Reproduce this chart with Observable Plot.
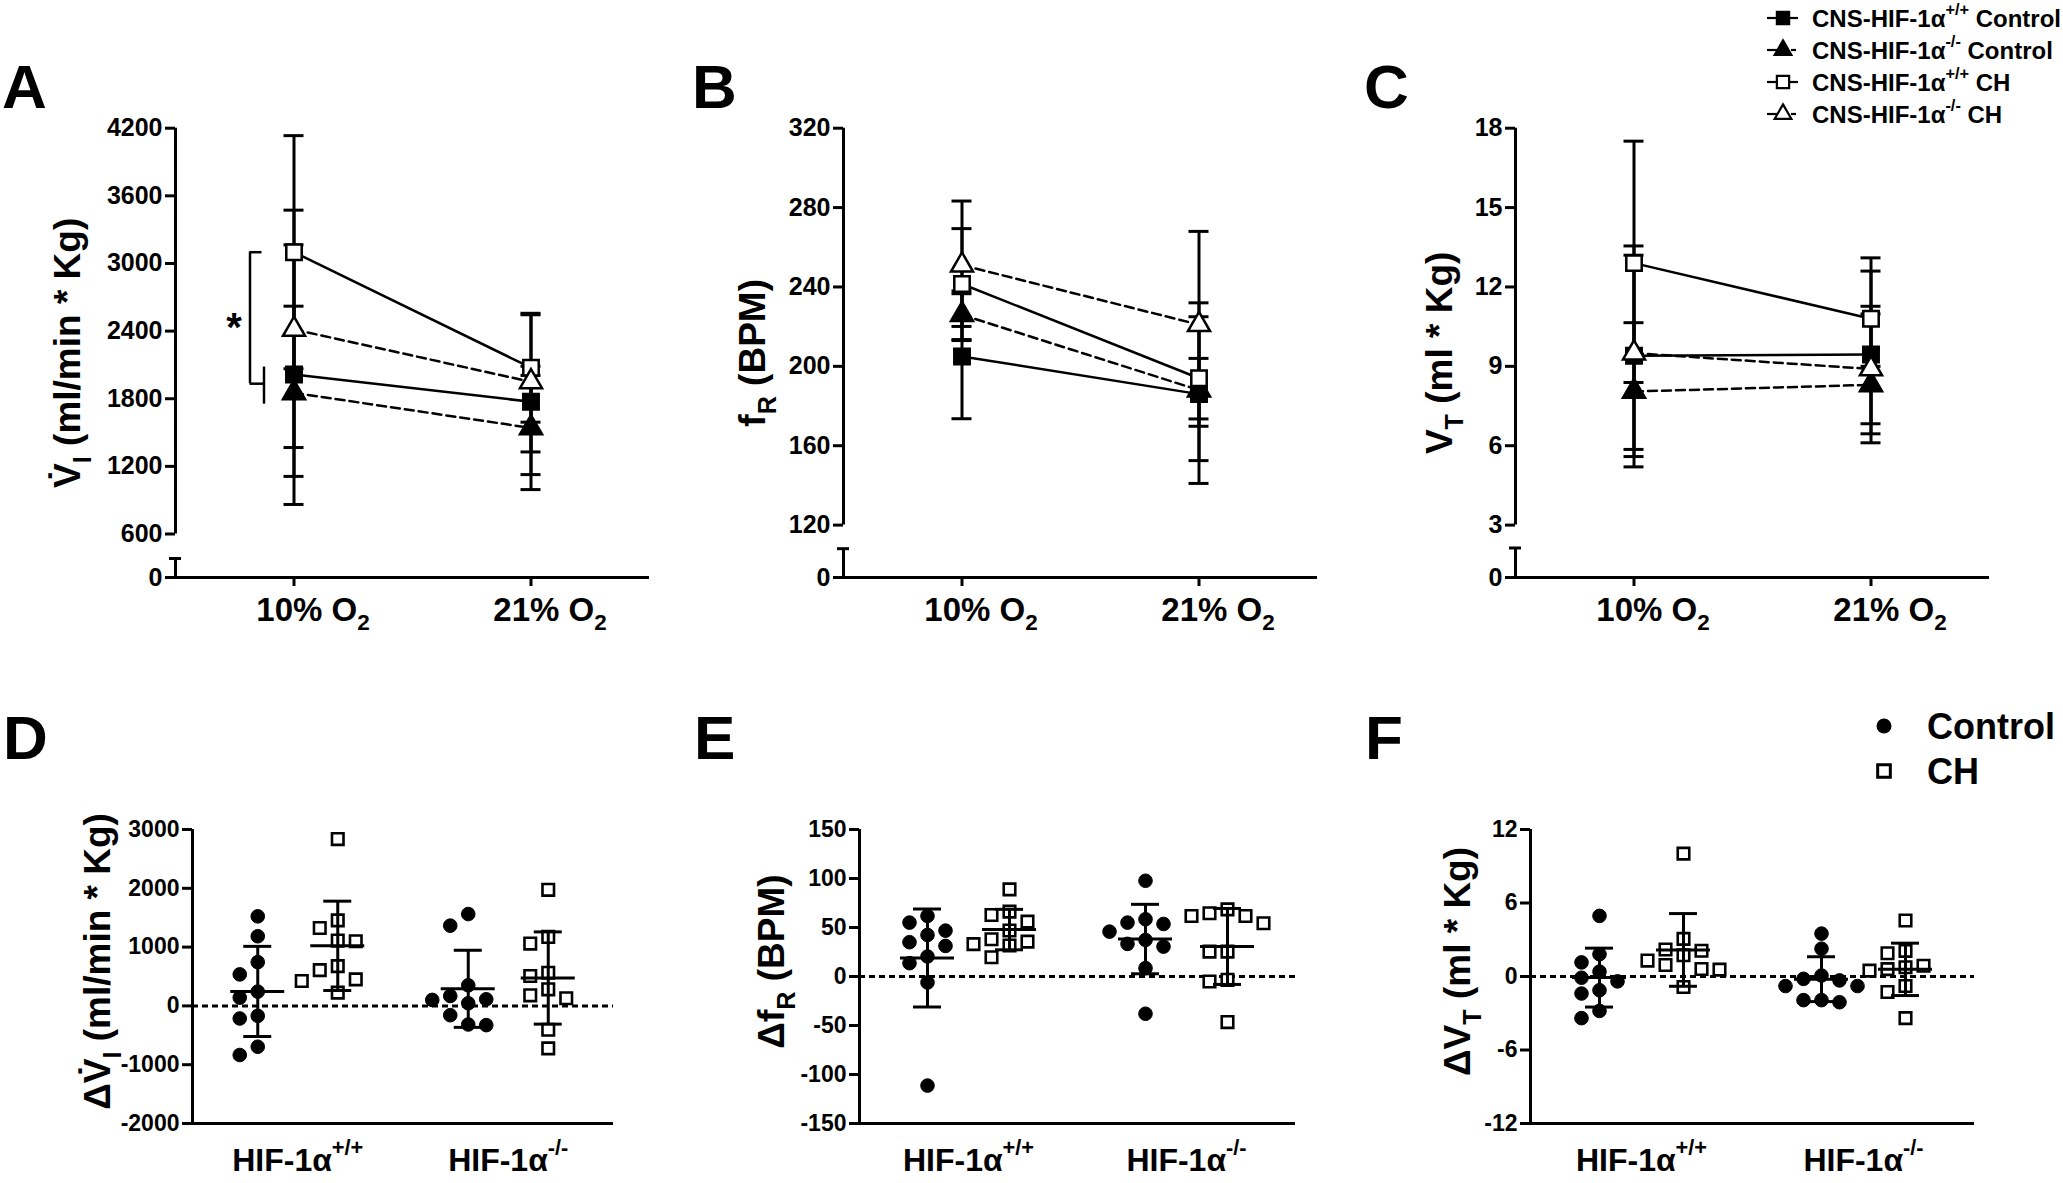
<!DOCTYPE html>
<html>
<head>
<meta charset="utf-8">
<script src="https://cdn.jsdelivr.net/npm/d3@7"></script>
<script src="https://cdn.jsdelivr.net/npm/@observablehq/plot@0.6"></script>
<style>
html, body { margin: 0; padding: 0; background: #fff; }
#fig { position: relative; width: 2063px; height: 1183px; background: #fff; overflow: hidden; }
#fig > svg { position: absolute; }
</style>
</head>
<body>
<div id="fig"></div>
<script>
// ================= DATA =================
const conditions = ["10% O_{2}", "21% O_{2}"];
const series = ["CNS-HIF-1α^{+/+} Control", "CNS-HIF-1α^{-/-} Control", "CNS-HIF-1α^{+/+} CH", "CNS-HIF-1α^{-/-} CH"];
const seriesSymbol = ["square", "triangle", "square", "triangle"];
const seriesFill = ["black", "black", "white", "white"];
const seriesDashed = [false, true, false, true];

// A — V̇I (ml/min * Kg), rows = series, columns = [10% O2, 21% O2]
const viMean = [[2015, 1773], [1852, 1541], [3100, 2075], [2415, 1950]];
const viLow  = [[862, 1127], [1111, 994], [2066, 1592], [1367, 1328]];
const viHigh = [[3165, 2007], [2621, 2088], [4134, 2558], [3473, 2545]];
const viTicks = [0, 600, 1200, 1800, 2400, 3000, 3600, 4200];

// B — fR (BPM)
const frMean = [[205, 186], [226, 188], [241.5, 194], [251, 221]];
const frLow  = [[173.6, 141], [213, 169.8], [213.5, 152.5], [220.1, 173.5]];
const frHigh = [[236.6, 225], [238, 204], [269.4, 232], [283.3, 268]];
const frTicks = [0, 120, 160, 200, 240, 280, 320];

// C — VT (ml * Kg)
const vtMean = [[9.4, 9.45], [8.05, 8.3], [12.9, 10.8], [9.5, 8.9]];
const vtLow  = [[5.59, 6.11], [5.86, 6.45], [8.39, 9.0], [5.2, 6.83]];
const vtHigh = [[13.2, 13.1], [10.65, 11.27], [17.51, 12.6], [13.55, 10.98]];
const vtTicks = [0, 3, 6, 9, 12, 15, 18];

// D–F — individual changes
const genotypes = ["HIF-1α^{+/+}", "HIF-1α^{-/-}"];
const treatments = ["Control", "CH"];

const dViWtControl = [1523, 1184, 744, 536, 243, 141, -169, -214, -694, -835];
const dViWtCH      = [2837, 1455, 1325, 1111, 1100, 677, 609, 451, 423, 226];
const dViKoControl = [1562, 1365, 350, 169, 102, 113, 45, -158, -327, -316];
const dViKoCH      = [1974, 1173, 1060, 564, 508, 282, 180, 130, -406, -722];
const dViTicks = [-2000, -1000, 0, 1000, 2000, 3000];

const dFrWtControl = [61.8, 55, 46.8, 42.4, 35, 31.2, 20.4, 13.6, -6.1, -111.3];
const dFrWtCH      = [88.9, 66.2, 62.8, 56, 47, 38, 35.6, 33, 31.6, 19.7];
const dFrKoControl = [97.7, 58.4, 55, 53.6, 45.8, 37.3, 33.3, 30.5, 8.5, -38];
const dFrKoCH      = [68.5, 64.5, 61.8, 61.8, 54.3, 25.4, 25.4, -3.4, -5.1, -46.5];
const dFrTicks = [-150, -100, -50, 0, 50, 100, 150];

const dVtWtControl = [4.95, 1.82, 1.15, 0.4, -0.1, -0.4, -1.12, -1.39, -2.81, -3.4];
const dVtWtCH      = [10.03, 3.07, 2.2, 2.1, 1.74, 1.3, 0.94, 0.61, 0.56, -0.86];
const dVtKoControl = [3.5, 2.27, 0.08, -0.19, -0.32, -0.78, -0.78, -1.93, -1.93, -2.1];
const dVtKoCH      = [4.57, 2.09, 1.9, 0.88, 0.75, 0.6, 0.48, -0.78, -1.26, -3.4];
const dVtTicks = [-12, -6, 0, 6, 12];

// ================= HELPERS =================
const fontFamily = '"Liberation Sans", Arial, Helvetica, sans-serif';
const fig = document.getElementById("fig");
const svgStyle = {fontFamily, fontWeight: "bold", background: "none", overflow: "visible", color: "black"};

function place(svg, left, top) {
  svg.style.left = left + "px";
  svg.style.top = top + "px";
  fig.appendChild(svg);
}

function topPanel({left, mean, low, high, ticks, brkY, brkCap, label, labelDx, extra}) {
  const W = 680, H = 650, mL = 175, mR = 31, yTop = 127.7, yZero = 577;
  const pxU = 2 / (W - mL - mR);
  const rows = [];
  mean.forEach((m, s) => m.forEach((v, c) => rows.push({s, c: c + 1, mean: v, lo: low[s][c], hi: high[s][c]})));
  const brk = ticks[1], top = ticks[ticks.length - 1];
  const marks = [
    Plot.ruleX([0.5], {y1: brk, y2: top, strokeWidth: 3}),
    Plot.ruleX([0.5], {y1: 0, y2: brkCap, strokeWidth: 3}),
    Plot.ruleY([brkCap], {x1: 0.5 - 6 * pxU, x2: 0.5 + 6 * pxU, strokeWidth: 3}),
    Plot.ruleY([0], {x1: 0.5, x2: 2.5, strokeWidth: 3}),
    Plot.axisY({ticks, tickSize: 10, tickPadding: 3, fontSize: 25, fontWeight: "bold", strokeWidth: 3, label: null, tickFormat: d => String(d)}),
    Plot.axisX({ticks: [1, 2], tickSize: 9, strokeWidth: 3, tickFormat: () => "", label: null}),
    Plot.axisX({ticks: [1, 2], tickFormat: i => conditions[i - 1], tickSize: 9, tickPadding: 11, dx: 19, fontSize: 33, fontWeight: "bold", strokeWidth: 0, label: null}),
    Plot.text([label], {text: d => d, frameAnchor: "left", textAnchor: "middle", dx: labelDx, rotate: -90, fontSize: 37, fontWeight: "bold"}),
    Plot.ruleX(rows, {x: "c", y1: "lo", y2: "hi", strokeWidth: 3}),
    Plot.ruleY(rows, {y: "hi", x1: d => d.c - 10 * pxU, x2: d => d.c + 10 * pxU, strokeWidth: 3}),
    Plot.ruleY(rows, {y: "lo", x1: d => d.c - 10 * pxU, x2: d => d.c + 10 * pxU, strokeWidth: 3}),
    Plot.line(rows.filter(d => !seriesDashed[d.s]), {x: "c", y: "mean", z: "s", strokeWidth: 2.5}),
    Plot.line(rows.filter(d => seriesDashed[d.s]), {x: "c", y: "mean", z: "s", strokeWidth: 2.5, strokeDasharray: "9,5"}),
    ...series.map((_, s) => Plot.dot(rows.filter(d => d.s === s), {
      x: "c", y: "mean", symbol: seriesSymbol[s], fill: seriesFill[s], stroke: "black",
      strokeWidth: 2.5, r: seriesSymbol[s] === "square" ? 8.7 : 8.2
    })),
    ...(extra ? extra(pxU) : [])
  ];
  const svg = Plot.plot({
    width: W, height: H, marginLeft: mL, marginRight: mR, marginTop: yTop, marginBottom: H - yZero,
    x: {type: "linear", domain: [0.5, 2.5]},
    y: {type: "linear", domain: [0, brk, top], range: [yZero, brkY, yTop]},
    style: svgStyle,
    marks
  });
  place(svg, left, 0);
}

function bottomPanel({left, data, ticks, label, labelDx, plotW, colOff}) {
  const W = 680, H = 503, mL = 192, mT = 149, mB = 60;
  const mR = W - mL - plotW;
  const pxU = 2 / plotW;
  const yDomain = [ticks[0], ticks[ticks.length - 1]];
  const yS = Plot.scale({y: {type: "linear", domain: yDomain, range: [H - mB, mT]}});
  const cols = [];
  genotypes.forEach((g, gi) => treatments.forEach((t, ti) =>
    cols.push({gi, ti, x: gi + 1 + (ti ? 1 : -1) * colOff * pxU, vals: data[gi * 2 + ti]})));
  const pts = [];
  cols.forEach(col => {
    const placed = [];
    const sorted = col.vals.slice().sort((a, b) => b - a);
    for (const v of sorted) {
      const py = yS.apply(v);
      let slot = 0;
      for (const cand of [0, -1, 1, -2, 2, -3, 3]) {
        if (!placed.some(p => p.slot === cand && Math.abs(p.py - py) < 15)) { slot = cand; break; }
      }
      placed.push({slot, py});
      pts.push({ti: col.ti, v, x: col.x + slot * 18 * pxU});
    }
  });
  const stats = cols.map(c => ({x: c.x, mean: d3.mean(c.vals), sd: d3.deviation(c.vals)}));
  const svg = Plot.plot({
    width: W, height: H, marginLeft: mL, marginRight: mR, marginTop: mT, marginBottom: mB,
    x: {type: "linear", domain: [0.5, 2.5]},
    y: {type: "linear", domain: yDomain},
    style: svgStyle,
    marks: [
      Plot.ruleX([0.5], {y1: yDomain[0], y2: yDomain[1], strokeWidth: 3}),
      Plot.ruleY([yDomain[0]], {x1: 0.5, x2: 2.5, strokeWidth: 3}),
      Plot.ruleY([0], {x1: 0.5, x2: 2.5, strokeWidth: 3, strokeDasharray: "6,4"}),
      Plot.axisY({ticks, tickSize: 10, tickPadding: 3, fontSize: 23, fontWeight: "bold", strokeWidth: 3, label: null, tickFormat: d => String(d)}),
      Plot.axisX({ticks: [1, 2], tickFormat: i => genotypes[i - 1], tickSize: 0, tickPadding: 25, fontSize: 32, fontWeight: "bold", label: null}),
      Plot.text([label], {text: d => d, frameAnchor: "left", textAnchor: "middle", dx: labelDx, dy: -15, rotate: -90, fontSize: 37, fontWeight: "bold"}),
      Plot.dot(pts.filter(d => d.ti === 0), {x: "x", y: "v", r: 6.8, fill: "black", stroke: "black", strokeWidth: 1}),
      Plot.dot(pts.filter(d => d.ti === 1), {x: "x", y: "v", symbol: "square", r: 6.5, fill: "white", stroke: "black", strokeWidth: 2.6}),
      Plot.ruleY(stats, {y: "mean", x1: d => d.x - 27 * pxU, x2: d => d.x + 27 * pxU, strokeWidth: 3}),
      Plot.ruleX(stats, {x: "x", y1: d => d.mean - d.sd, y2: d => d.mean + d.sd, strokeWidth: 3}),
      Plot.ruleY(stats, {y: d => d.mean + d.sd, x1: d => d.x - 14 * pxU, x2: d => d.x + 14 * pxU, strokeWidth: 3}),
      Plot.ruleY(stats, {y: d => d.mean - d.sd, x1: d => d.x - 14 * pxU, x2: d => d.x + 14 * pxU, strokeWidth: 3})
    ]
  });
  place(svg, left, 680);
}

// ================= PANELS =================
topPanel({
  left: 0, mean: viMean, low: viLow, high: viHigh, ticks: viTicks, brkY: 533.5, brkCap: 262,
  label: "V\u0307_{I} (ml/min * Kg)", labelDx: -107,
  extra: pxU => {
    const br = {x: 1, top: viMean[2][0], bot: (viMean[0][0] + viMean[1][0]) / 2,
                lo: viMean[1][0] - 100, hi: viMean[0][0] + 66};
    return [
      Plot.ruleX([br], {x: d => d.x - 44 * pxU, y1: "top", y2: "bot", strokeWidth: 2.5}),
      Plot.ruleY([br], {y: "top", x1: d => d.x - 44 * pxU, x2: d => d.x - 32 * pxU, strokeWidth: 2.5}),
      Plot.ruleY([br], {y: "bot", x1: d => d.x - 44 * pxU, x2: d => d.x - 30 * pxU, strokeWidth: 2.5}),
      Plot.ruleX([br], {x: d => d.x - 30 * pxU, y1: "lo", y2: "hi", strokeWidth: 2.5}),
      Plot.text([br], {x: d => d.x - 60 * pxU, y: d => (d.top + d.bot) / 2, text: () => "*", fontSize: 40, fontWeight: "bold", dy: 10})
    ];
  }
});
topPanel({left: 668, mean: frMean, low: frLow, high: frHigh, ticks: frTicks, brkY: 524.6, brkCap: 66,
  label: "f_{R} (BPM)", labelDx: -90});
topPanel({left: 1340, mean: vtMean, low: vtLow, high: vtHigh, ticks: vtTicks, brkY: 524.6, brkCap: 1.69,
  label: "V_{T} (ml * Kg)", labelDx: -75});

bottomPanel({left: 0, data: [dViWtControl, dViWtCH, dViKoControl, dViKoCH], ticks: dViTicks,
  label: "\u0394V\u0307_{I} (ml/min * Kg)", labelDx: -94, plotW: 421, colOff: 40});
bottomPanel({left: 667, data: [dFrWtControl, dFrWtCH, dFrKoControl, dFrKoCH], ticks: dFrTicks,
  label: "\u0394f_{R} (BPM)", labelDx: -87, plotW: 436, colOff: 41});
bottomPanel({left: 1338, data: [dVtWtControl, dVtWtCH, dVtKoControl, dVtKoCH], ticks: dVtTicks,
  label: "\u0394V_{T} (ml * Kg)", labelDx: -72, plotW: 444, colOff: 42});

// ================= OVERLAY: panel letters & legends =================
const ov = d3.create("svg").attr("width", 2063).attr("height", 1183)
  .style("left", "0px").style("top", "0px")
  .attr("font-family", fontFamily).attr("font-weight", "bold");

[["A", 2, 108], ["B", 692, 108], ["C", 1364, 108], ["D", 3, 759], ["E", 694, 759], ["F", 1365, 759]]
  .forEach(([t, x, y]) => ov.append("text").attr("x", x).attr("y", y).attr("font-size", 62).text(t));

series.forEach((name, i) => {
  const y = 18 + 32 * i;
  const g = ov.append("g");
  if (seriesDashed[i]) {
    g.append("line").attr("x1", 1767).attr("x2", 1777).attr("y1", y).attr("y2", y).attr("stroke", "black").attr("stroke-width", 2.2);
    g.append("line").attr("x1", 1791).attr("x2", 1796).attr("y1", y).attr("y2", y).attr("stroke", "black").attr("stroke-width", 2.2);
  } else {
    g.append("line").attr("x1", 1767).attr("x2", 1798).attr("y1", y).attr("y2", y).attr("stroke", "black").attr("stroke-width", 2.2);
  }
  const sym = seriesSymbol[i] === "square" ? d3.symbol(d3.symbolSquare, 150) : d3.symbol(d3.symbolTriangle, 120);
  g.append("path").attr("d", sym()).attr("transform", `translate(1783,${y})`)
    .attr("fill", seriesFill[i]).attr("stroke", "black").attr("stroke-width", 2.2);
  g.append("text").attr("x", 1812).attr("y", y + 8.5).attr("font-size", 24).text(name);
});

// D–F legend
ov.append("circle").attr("cx", 1884).attr("cy", 726).attr("r", 7.5).attr("fill", "black");
ov.append("text").attr("x", 1927).attr("y", 739).attr("font-size", 36).text(treatments[0]);
ov.append("path").attr("d", d3.symbol(d3.symbolSquare, 160)()).attr("transform", "translate(1884,771)")
  .attr("fill", "white").attr("stroke", "black").attr("stroke-width", 3);
ov.append("text").attr("x", 1927).attr("y", 784).attr("font-size", 36).text(treatments[1]);

fig.appendChild(ov.node());

// ================= rich text (sub/superscripts) =================
function richify(root) {
  const NS = "http://www.w3.org/2000/svg";
  root.querySelectorAll("text").forEach(t => {
    const s = t.textContent;
    if (!/[\^_]\{/.test(s)) return;
    const parts = [];
    const re = /([\^_])\{([^}]*)\}/g;
    let last = 0, m;
    while ((m = re.exec(s))) {
      if (m.index > last) parts.push({txt: s.slice(last, m.index), k: ""});
      parts.push({txt: m[2], k: m[1]});
      last = re.lastIndex;
    }
    if (last < s.length) parts.push({txt: s.slice(last), k: ""});
    while (t.firstChild) t.removeChild(t.firstChild);
    let offset = 0;
    for (const p of parts) {
      const ts = document.createElementNS(NS, "tspan");
      const scale = p.k ? 0.68 : 1;
      const target = p.k === "^" ? -0.5 : p.k === "_" ? 0.28 : 0;
      const delta = target - offset;
      if (delta) ts.setAttribute("dy", (delta / scale).toFixed(3) + "em");
      if (p.k) ts.setAttribute("font-size", (scale * 100) + "%");
      ts.textContent = p.txt;
      t.appendChild(ts);
      offset = target;
    }
  });
}
richify(fig);
</script>
</body>
</html>
